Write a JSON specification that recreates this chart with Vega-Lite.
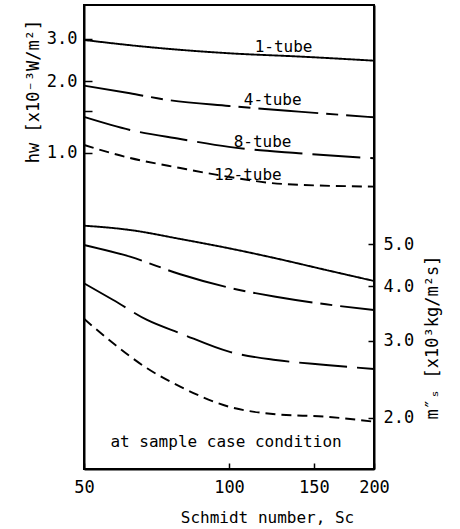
{
  "$schema": "https://vega.github.io/schema/vega-lite/v6.json",
  "width": 290,
  "height": 464,
  "autosize": {"type": "none"},
  "padding": {"left": 84, "top": 5, "right": 86, "bottom": 60},
  "background": "white",
  "config": {
    "view": {"stroke": "black", "strokeWidth": 2},
    "font": "DejaVu Sans Mono",
    "axis": {
      "domainColor": "black", "domainWidth": 2, "tickColor": "black", "tickWidth": 1.5,
      "labelColor": "black", "labelFont": "DejaVu Sans Mono", "labelFontSize": 17,
      "titleColor": "black", "titleFont": "DejaVu Sans Mono", "titleFontSize": 16, "titleFontWeight": "normal",
      "grid": false, "labelFlush": false, "labelOverlap": false, "labelBound": false
    }
  },
  "datasets": {
    "curves": [
      {"quantity": "hw", "tube": "1-tube", "Sc": 50, "value": 2.97},
      {"quantity": "hw", "tube": "1-tube", "Sc": 68.6, "value": 2.77},
      {"quantity": "hw", "tube": "1-tube", "Sc": 100, "value": 2.613},
      {"quantity": "hw", "tube": "1-tube", "Sc": 141, "value": 2.53},
      {"quantity": "hw", "tube": "1-tube", "Sc": 200, "value": 2.433},
      {"quantity": "hw", "tube": "4-tube", "Sc": 50, "value": 1.912},
      {"quantity": "hw", "tube": "4-tube", "Sc": 62.3, "value": 1.777},
      {"quantity": "hw", "tube": "4-tube", "Sc": 73, "value": 1.678},
      {"quantity": "hw", "tube": "4-tube", "Sc": 100, "value": 1.573},
      {"quantity": "hw", "tube": "4-tube", "Sc": 139.5, "value": 1.489},
      {"quantity": "hw", "tube": "4-tube", "Sc": 200, "value": 1.41},
      {"quantity": "hw", "tube": "8-tube", "Sc": 50, "value": 1.415},
      {"quantity": "hw", "tube": "8-tube", "Sc": 62.3, "value": 1.248},
      {"quantity": "hw", "tube": "8-tube", "Sc": 79.2, "value": 1.144},
      {"quantity": "hw", "tube": "8-tube", "Sc": 100, "value": 1.06},
      {"quantity": "hw", "tube": "8-tube", "Sc": 139.5, "value": 0.997},
      {"quantity": "hw", "tube": "8-tube", "Sc": 200, "value": 0.95},
      {"quantity": "hw", "tube": "12-tube", "Sc": 50, "value": 1.08},
      {"quantity": "hw", "tube": "12-tube", "Sc": 62.3, "value": 0.953},
      {"quantity": "hw", "tube": "12-tube", "Sc": 79.2, "value": 0.865},
      {"quantity": "hw", "tube": "12-tube", "Sc": 100, "value": 0.794},
      {"quantity": "hw", "tube": "12-tube", "Sc": 129, "value": 0.742},
      {"quantity": "hw", "tube": "12-tube", "Sc": 200, "value": 0.723},
      {"quantity": "ms", "tube": "1-tube", "Sc": 50, "value": 5.514},
      {"quantity": "ms", "tube": "1-tube", "Sc": 62.3, "value": 5.39},
      {"quantity": "ms", "tube": "1-tube", "Sc": 79.2, "value": 5.14},
      {"quantity": "ms", "tube": "1-tube", "Sc": 100, "value": 4.893},
      {"quantity": "ms", "tube": "1-tube", "Sc": 125, "value": 4.641},
      {"quantity": "ms", "tube": "1-tube", "Sc": 159, "value": 4.363},
      {"quantity": "ms", "tube": "1-tube", "Sc": 200, "value": 4.117},
      {"quantity": "ms", "tube": "4-tube", "Sc": 50, "value": 4.979},
      {"quantity": "ms", "tube": "4-tube", "Sc": 62.3, "value": 4.681},
      {"quantity": "ms", "tube": "4-tube", "Sc": 79.2, "value": 4.265},
      {"quantity": "ms", "tube": "4-tube", "Sc": 100, "value": 3.973},
      {"quantity": "ms", "tube": "4-tube", "Sc": 125, "value": 3.788},
      {"quantity": "ms", "tube": "4-tube", "Sc": 159, "value": 3.639},
      {"quantity": "ms", "tube": "4-tube", "Sc": 200, "value": 3.531},
      {"quantity": "ms", "tube": "8-tube", "Sc": 50, "value": 4.067},
      {"quantity": "ms", "tube": "8-tube", "Sc": 57.5, "value": 3.723},
      {"quantity": "ms", "tube": "8-tube", "Sc": 67.6, "value": 3.35},
      {"quantity": "ms", "tube": "8-tube", "Sc": 79.2, "value": 3.122},
      {"quantity": "ms", "tube": "8-tube", "Sc": 100, "value": 2.833},
      {"quantity": "ms", "tube": "8-tube", "Sc": 125, "value": 2.711},
      {"quantity": "ms", "tube": "8-tube", "Sc": 159, "value": 2.641},
      {"quantity": "ms", "tube": "8-tube", "Sc": 200, "value": 2.585},
      {"quantity": "ms", "tube": "12-tube", "Sc": 50, "value": 3.37},
      {"quantity": "ms", "tube": "12-tube", "Sc": 57.5, "value": 2.962},
      {"quantity": "ms", "tube": "12-tube", "Sc": 67.6, "value": 2.595},
      {"quantity": "ms", "tube": "12-tube", "Sc": 79.2, "value": 2.355},
      {"quantity": "ms", "tube": "12-tube", "Sc": 100, "value": 2.118},
      {"quantity": "ms", "tube": "12-tube", "Sc": 125, "value": 2.035},
      {"quantity": "ms", "tube": "12-tube", "Sc": 159, "value": 2.009},
      {"quantity": "ms", "tube": "12-tube", "Sc": 200, "value": 1.957}
    ],
    "labels": [
      {"label": "1-tube", "Sc": 129.8, "value": 2.776},
      {"label": "4-tube", "Sc": 123.2, "value": 1.666},
      {"label": "8-tube", "Sc": 117.4, "value": 1.112},
      {"label": "12-tube", "Sc": 109.5, "value": 0.809},
      {"label": "at sample case condition", "Sc": 98.6, "value": 0.0618}
    ]
  },
  "layer": [
    {
      "layer": [
        {
          "data": {"name": "curves"},
          "transform": [{"filter": "datum.quantity == 'hw'"}],
          "mark": {"type": "line", "color": "black", "strokeWidth": 1.9, "interpolate": "monotone"},
          "encoding": {
            "x": {
              "field": "Sc", "type": "quantitative",
              "scale": {"type": "log", "domain": [50, 200], "nice": false},
              "axis": {
                "values": [50, 100, 150, 200], "format": "d", "tickSize": -6, "labelPadding": 16,
                "labelBaseline": "top", "title": "Schmidt number, Sc", "titleX": 183, "titleY": 48,
                "titleBaseline": "middle", "titleAlign": "center"
              }
            },
            "y": {
              "field": "value", "type": "quantitative",
              "scale": {"type": "log", "domain": [0.0476, 4.16], "nice": false},
              "axis": {
                "orient": "left", "values": [1, 1.5, 2, 3],
                "labelExpr": "datum.value == 1.5 ? '' : format(datum.value, '.1f')",
                "tickSize": -8, "labelPadding": 15,
                "title": "hw [x10⁻³W/m²]", "titleX": -51, "titleY": 86, "titleAngle": 270,
                "titleAlign": "center", "titleBaseline": "middle", "titleFontSize": 17
              }
            },
            "strokeDash": {
              "field": "tube", "type": "nominal",
              "scale": {"domain": ["1-tube", "4-tube", "8-tube", "12-tube"], "range": [[1, 0], [60, 8, 12, 8], [48, 10], [10, 6]]},
              "legend": null
            }
          }
        },
        {
          "data": {"name": "labels"},
          "mark": {"type": "text", "color": "black", "font": "DejaVu Sans Mono", "fontSize": 16, "align": "center", "baseline": "middle"},
          "encoding": {
            "x": {"field": "Sc", "type": "quantitative", "scale": {"type": "log", "domain": [50, 200], "nice": false}},
            "y": {"field": "value", "type": "quantitative", "scale": {"type": "log", "domain": [0.0476, 4.16], "nice": false}},
            "text": {"field": "label"}
          }
        }
      ]
    },
    {
      "data": {"name": "curves"},
      "transform": [{"filter": "datum.quantity == 'ms'"}],
      "mark": {"type": "line", "color": "black", "strokeWidth": 1.9, "interpolate": "monotone"},
      "encoding": {
        "x": {"field": "Sc", "type": "quantitative", "scale": {"type": "log", "domain": [50, 200], "nice": false}},
        "y": {
          "field": "value", "type": "quantitative",
          "scale": {"type": "log", "domain": [1.524, 17.7], "nice": false},
          "axis": {
            "orient": "right", "values": [2, 3, 4, 5], "format": ".1f",
            "tickSize": -6, "labelPadding": 15,
            "title": "m″ₛ [x10³kg/m²s]", "titleX": 58, "titleY": 332, "titleAngle": 270,
            "titleAlign": "center", "titleBaseline": "middle", "titleFontSize": 17
          }
        },
        "strokeDash": {"field": "tube", "type": "nominal", "legend": null}
      }
    }
  ],
  "resolve": {"scale": {"y": "independent"}}
}
